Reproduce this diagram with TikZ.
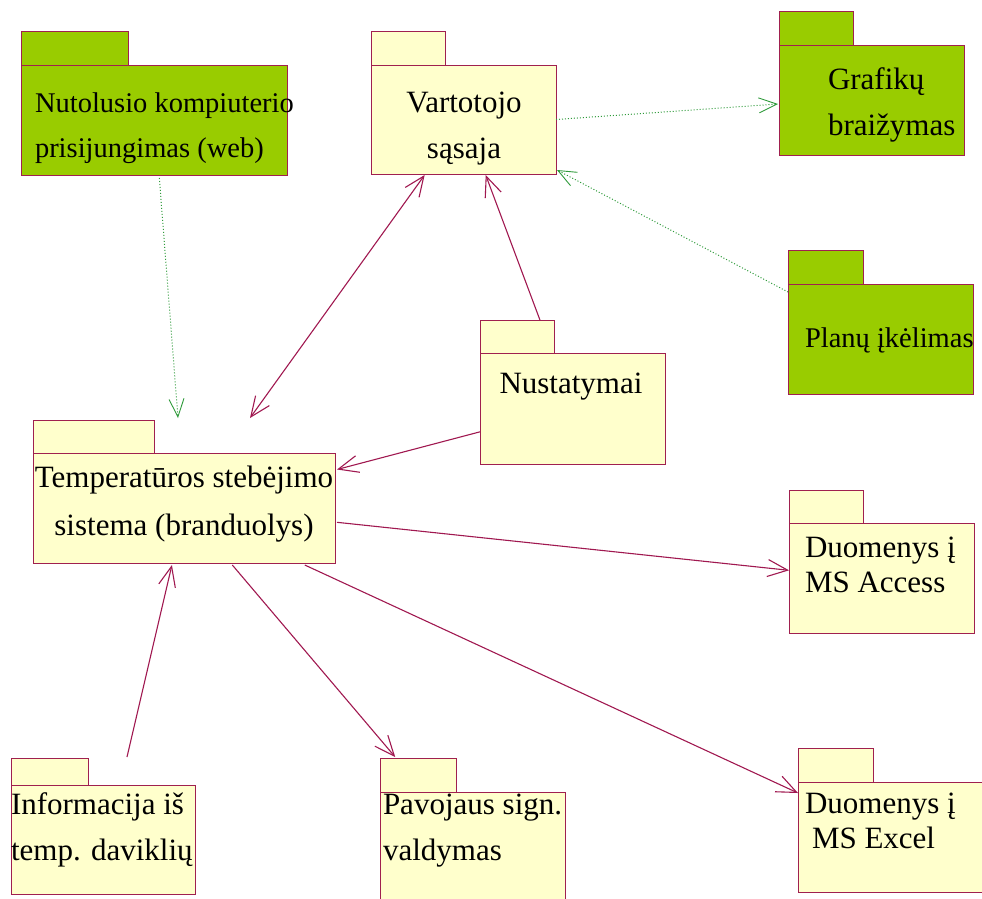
\documentclass[tikz,border=0pt]{standalone}
\usepackage{fontspec}
\setmainfont{Liberation Serif}
\usetikzlibrary{arrows.meta,calc}
\definecolor{pkggreen}{HTML}{99CC00}
\definecolor{pkgyellow}{HTML}{FFFFCC}
\definecolor{pkgborder}{HTML}{A0204F}
\definecolor{flowred}{HTML}{A01850}
\definecolor{depgreen}{HTML}{2E9A3A}
\tikzset{
  pkg/.style={draw=pkgborder, line width=1pt, inner sep=0pt, outer sep=0pt, rectangle},
  pkgG/.style={pkg, fill=pkggreen},
  pkgY/.style={pkg, fill=pkgyellow},
  lbl/.style={inner sep=0pt, outer sep=0pt, font=\fontsize{31pt}{46pt}\selectfont},
  lblS/.style={inner sep=0pt, outer sep=0pt, font=\fontsize{28.5pt}{45pt}\selectfont},
  lblL/.style={inner sep=0pt, outer sep=0pt, font=\fontsize{31pt}{48pt}\selectfont},
  lblT/.style={inner sep=0pt, outer sep=0pt, font=\fontsize{31pt}{35pt}\selectfont},
  flow/.style={draw=flowred, line width=1.1pt, -{Straight Barb[length=20pt,width=17pt,line width=1.1pt]}},
  both/.style={flow, {Straight Barb[length=20pt,width=17pt,line width=1.1pt]}-{Straight Barb[length=20pt,width=17pt,line width=1.1pt]}},
  dep/.style={draw=depgreen, line width=1pt, dotted, -{Straight Barb[length=18pt,width=15pt,line width=0.9pt]}}
}
\begin{document}
\begin{tikzpicture}[x=1pt,y=-1pt]
\useasboundingbox (0,0) rectangle (982,898);

% ---- packages: body first, tab on top of its upper-left corner ----
\node[pkgG, minimum width=266pt, minimum height=110pt, anchor=north west] (nutol) at (21,65) {};
\node[pkgG, minimum width=107pt, minimum height=34pt, anchor=south west] (nutol-tab) at (nutol.north west) {};

\node[pkgY, minimum width=185pt, minimum height=109pt, anchor=north west] (vart) at (371,65) {};
\node[pkgY, minimum width=74pt, minimum height=34pt, anchor=south west] (vart-tab) at (vart.north west) {};

\node[pkgG, minimum width=185pt, minimum height=110pt, anchor=north west] (graf) at (779,45) {};
\node[pkgG, minimum width=74pt, minimum height=34pt, anchor=south west] (graf-tab) at (graf.north west) {};

\node[pkgG, minimum width=185pt, minimum height=110pt, anchor=north west] (plan) at (788,284) {};
\node[pkgG, minimum width=75pt, minimum height=34pt, anchor=south west] (plan-tab) at (plan.north west) {};

\node[pkgY, minimum width=185pt, minimum height=111pt, anchor=north west] (nust) at (480,353) {};
\node[pkgY, minimum width=74pt, minimum height=33pt, anchor=south west] (nust-tab) at (nust.north west) {};

\node[pkgY, minimum width=302pt, minimum height=110pt, anchor=north west] (temp) at (33,453) {};
\node[pkgY, minimum width=121pt, minimum height=33pt, anchor=south west] (temp-tab) at (temp.north west) {};

\node[pkgY, minimum width=185pt, minimum height=110pt, anchor=north west] (acc) at (789,523) {};
\node[pkgY, minimum width=74pt, minimum height=33pt, anchor=south west] (acc-tab) at (acc.north west) {};

\node[pkgY, minimum width=186pt, minimum height=110pt, anchor=north west] (xls) at (798,782) {};
\node[pkgY, minimum width=75pt, minimum height=34pt, anchor=south west] (xls-tab) at (xls.north west) {};

\node[pkgY, minimum width=184pt, minimum height=109pt, anchor=north west] (info) at (11,785) {};
\node[pkgY, minimum width=77pt, minimum height=27pt, anchor=south west] (info-tab) at (info.north west) {};

\node[pkgY, minimum width=185pt, minimum height=110pt, anchor=north west] (pav) at (380,792) {};
\node[pkgY, minimum width=76pt, minimum height=34pt, anchor=south west] (pav-tab) at (pav.north west) {};

% ---- package names (base anchor = baseline of the last line) ----
\node[lblS, align=left, anchor=base west] (nutol-l) at (35,157) {Nutolusio kompiuterio\\prisijungimas (web)};
\node[lbl, align=center, anchor=base] (vart-l) at (464,158) {Vartotojo\\sąsaja};
\node[lbl, align=left, anchor=base west] (graf-l) at (828,135) {Grafikų\\braižymas};
\node[lblS, anchor=base west] (plan-l) at (805,347) {Planų įkėlimas};
\node[lbl, anchor=base] (nust-l) at (571,393) {Nustatymai};
\node[lblL, align=center, anchor=base] (temp-l) at (184,535) {Temperatūros stebėjimo\\sistema (branduolys)};
\node[lblT, align=left, anchor=base west] (acc-l) at (805,592) {Duomenys į\\MS Access};
\node[lblT, align=left, anchor=base west] (xls-l) at (805,848) {Duomenys į\\\hspace*{7pt}MS Excel};
\node[lbl, align=left, anchor=base west] (info-l) at (11,860) {Informacija iš\\temp. daviklių};
\node[lbl, align=left, anchor=base west] (pav-l) at (383,860) {Pavojaus sign.\\valdymas};

% ---- dependencies (dotted) ----
\draw[dep] ($(nutol.south west)!0.52!(nutol.south east)+(0,3)$) -- ($(temp.north west)+(145,-35)$);
\draw[dep] (vart.east) -- ($(graf.north west)+(-1,59)$);
\draw[dep] ($(plan.north west)+(0,8)$) -- ($(vart.south east)+(1,-4)$);

% ---- data flows ----
\draw[both] ($(temp.north west)+(217,-35)$) -- ($(vart.south west)!0.29!(vart.south east)+(0,1)$);
\draw[flow] ($(nust-tab.north west)!0.81!(nust-tab.north east)$) -- ($(vart.south west)!0.62!(vart.south east)+(0,1)$);
\draw[flow] ($(nust.north west)!0.71!(nust.south west)$) -- ($(temp.north east)!0.15!(temp.south east)+(2,0)$);
\draw[flow] ($(temp.north east)!0.63!(temp.south east)+(2,0)$) -- ($(acc.north west)!0.43!(acc.south west)$);
\draw[flow] ($(temp.south west)!0.9!(temp.south east)+(0,2)$) -- ($(xls.north west)!0.1!(xls.south west)$);
\draw[flow] ($(temp.south west)!0.66!(temp.south east)+(0,2)$) -- ($(pav-tab.north west)!0.2!(pav-tab.north east)+(0,-1)$);
\draw[flow] ($(info.north west)+(116,-28)$) -- ($(temp.south west)!0.46!(temp.south east)+(0,2)$);
\end{tikzpicture}
\end{document}
